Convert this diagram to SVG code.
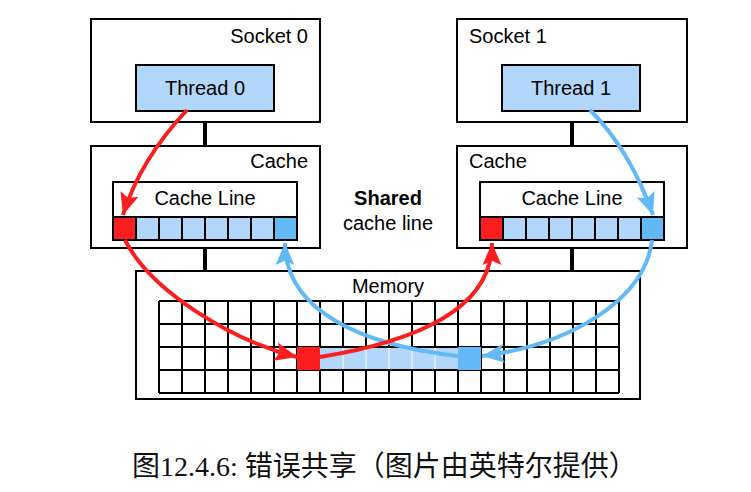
<svg xmlns="http://www.w3.org/2000/svg" width="751" height="492" viewBox="0 0 751 492">
<style>
.box{fill:#fff;stroke:#000;stroke-width:2}
.thr{fill:#b3d6fb;stroke:#000;stroke-width:2}
.lb{fill:#b3d6fb;stroke:#000;stroke-width:2}
.rd{fill:#fb1e1e;stroke:#000;stroke-width:2}
.bl{fill:#62b9f6;stroke:#000;stroke-width:2}
.bar{stroke:#000;stroke-width:4}
.grid{stroke:#000;stroke-width:2;fill:none}
.t{font-family:"Liberation Sans",Arial,sans-serif;font-size:20px;fill:#000}
.ar{fill:none;stroke-width:4}
.red{stroke:#fb1e1e}
.blu{stroke:#62b9f6}
.cap{font-family:"Liberation Serif","Noto Sans CJK SC",serif;font-size:28px;fill:#111}
</style>
<defs>
<marker id="hr" markerUnits="userSpaceOnUse" markerWidth="22" markerHeight="22" viewBox="0 0 21 18" refX="21" refY="9" orient="auto"><path d="M0,0 L21,9 L0,18 L4,9 Z" fill="#fb1e1e"/></marker>
<marker id="hb" markerUnits="userSpaceOnUse" markerWidth="22" markerHeight="22" viewBox="0 0 21 18" refX="21" refY="9" orient="auto"><path d="M0,0 L21,9 L0,18 L4,9 Z" fill="#62b9f6"/></marker>
</defs>
<rect width="751" height="492" fill="#fff"/>
<g id="bars">
<line class="bar" x1="205" y1="122" x2="205" y2="146"/>
<line class="bar" x1="205" y1="248" x2="205" y2="272"/>
<line class="bar" x1="572" y1="122" x2="572" y2="146"/>
<line class="bar" x1="572" y1="248" x2="572" y2="272"/>
</g>
<g id="socket0">
<rect class="box" x="91" y="19" width="229" height="103"/>
<text class="t" x="308" y="43" text-anchor="end">Socket 0</text>
<rect class="thr" x="136" y="65" width="138" height="46"/>
<text class="t" x="205" y="95" text-anchor="middle">Thread 0</text>
</g>
<g id="cache0">
<rect class="box" x="91" y="146" width="229" height="102"/>
<text class="t" x="308" y="168" text-anchor="end">Cache</text>
<rect class="box" x="113" y="182" width="184" height="58"/>
<text class="t" x="205" y="205" text-anchor="middle">Cache Line</text>
<rect class="rd" x="113" y="217" width="23" height="23"/>
<rect class="lb" x="136" y="217" width="23" height="23"/>
<rect class="lb" x="159" y="217" width="23" height="23"/>
<rect class="lb" x="182" y="217" width="23" height="23"/>
<rect class="lb" x="205" y="217" width="23" height="23"/>
<rect class="lb" x="228" y="217" width="23" height="23"/>
<rect class="lb" x="251" y="217" width="23" height="23"/>
<rect class="bl" x="274" y="217" width="23" height="23"/>
</g>
<g id="socket1">
<rect class="box" x="457" y="19" width="230" height="103"/>
<text class="t" x="469" y="43">Socket 1</text>
<rect class="thr" x="502" y="65" width="138" height="46"/>
<text class="t" x="571" y="95" text-anchor="middle">Thread 1</text>
</g>
<g id="cache1">
<rect class="box" x="457" y="146" width="230" height="102"/>
<text class="t" x="469" y="168">Cache</text>
<rect class="box" x="480" y="182" width="184" height="58"/>
<text class="t" x="572" y="205" text-anchor="middle">Cache Line</text>
<rect class="rd" x="480" y="217" width="23" height="23"/>
<rect class="lb" x="503" y="217" width="23" height="23"/>
<rect class="lb" x="526" y="217" width="23" height="23"/>
<rect class="lb" x="549" y="217" width="23" height="23"/>
<rect class="lb" x="572" y="217" width="23" height="23"/>
<rect class="lb" x="595" y="217" width="23" height="23"/>
<rect class="lb" x="618" y="217" width="23" height="23"/>
<rect class="bl" x="641" y="217" width="23" height="23"/>
</g>
<g id="shared">
<text class="t" x="388" y="205" text-anchor="middle" font-weight="bold">Shared</text>
<text class="t" x="388" y="230" text-anchor="middle">cache line</text>
</g>
<g id="memory">
<rect class="box" x="136" y="271" width="504" height="128"/>
<text class="t" x="388" y="293" text-anchor="middle">Memory</text>
<path class="grid" d="M159,301H619M159,324H619M159,347H619M159,370H619M159,393H619M159,301V393M182,301V393M205,301V393M228,301V393M251,301V393M274,301V393M297,301V393M320,301V393M343,301V393M366,301V393M389,301V393M412,301V393M435,301V393M458,301V393M481,301V393M504,301V393M527,301V393M550,301V393M573,301V393M596,301V393M619,301V393"/>
<rect x="320" y="348" width="138" height="21" fill="#b3d6fb"/>
<path d="M343,348V369M366,348V369M389,348V369M412,348V369M435,348V369" stroke="#fff" stroke-width="1"/>
<rect x="297" y="347" width="23" height="23" fill="#fb1e1e"/>
<rect x="458" y="347" width="23" height="23" fill="#62b9f6"/>
</g>
<g id="connectors">
<path class="ar blu" d="M590,110 Q630,150 653,215" marker-end="url(#hb)"/>
<path class="ar blu" d="M652,240 C645,300 570,345 482,356" marker-end="url(#hb)"/>
<path class="ar blu" d="M458,356 C360,345 285,310 285,243" marker-end="url(#hb)"/>
<path class="ar red" d="M187,110 Q140,160 123,215" marker-end="url(#hr)"/>
<path class="ar red" d="M125,240 C150,290 230,340 297,357" marker-end="url(#hr)"/>
<path class="ar red" d="M320,357 C425,340 492,305 492,243" marker-end="url(#hr)"/>
</g>
<text class="cap" x="132" y="476">图12.4.6: 错误共享（图片由英特尔提供）</text>
</svg>
